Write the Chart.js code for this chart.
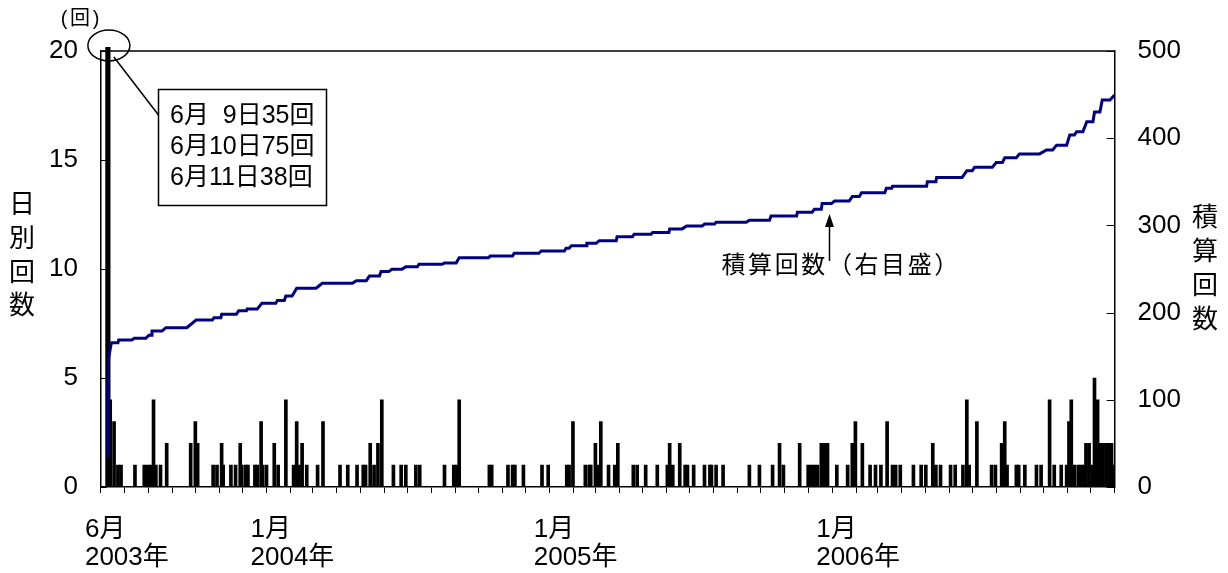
<!DOCTYPE html>
<html lang="ja">
<head>
<meta charset="utf-8">
<title>日別回数と積算回数</title>
<script src="https://cdn.jsdelivr.net/npm/chart.js@4.4.1/dist/chart.umd.min.js"></script>
<style>
  html, body { margin: 0; padding: 0; background: #fff; }
  #wrap { position: relative; width: 1228px; height: 573px; }
</style>
</head>
<body>
<div id="wrap"><canvas id="quakeChart"></canvas></div>
<script>
// Days are counted from 2003-06-01 (day 0)
const eventDays = [
    8, 9, 10, 12, 17, 22, 26, 44, 56, 60, 64, 68, 71, 77, 85,
    116, 122, 125, 145, 150, 156, 158, 168, 174, 180, 182, 187, 190, 199, 202,
    207, 209, 214, 224, 229, 239, 249, 253, 256, 260, 266, 280, 287, 309, 319,
    331, 339, 342, 348, 353, 358, 363, 378, 388, 394, 407, 412,
    444, 456, 460, 463, 502, 505, 526, 532, 535, 546, 570, 578, 602, 605, 610,
    626, 631, 633, 639, 642, 646, 656, 664, 668, 688, 693, 704, 719, 732, 735,
    739, 748, 755, 758, 766, 780, 787, 789, 795, 804, 838, 851, 868, 877,
    882, 903, 914, 918, 922, 926, 931, 935, 939, 951, 965, 971, 975, 984, 994,
    1001, 1008, 1016, 1023, 1027, 1033, 1050, 1060, 1066, 1075, 1079, 1085, 1098, 1104, 1114,
    1119, 1122, 1132, 1151, 1156, 1164, 1168, 1171, 1183, 1186, 1194, 1209, 1215, 1226, 1232,
    1241, 1248, 1251, 1254, 1258, 1263, 1267, 1270, 1273, 1277, 1281, 1284, 1288, 1292, 1295,
    1299, 1303, 1306, 1309
];
const eventCounts = [
    35, 75, 38, 4, 3, 1, 1, 1, 1, 1, 1, 4, 1, 1, 2,
    2, 3, 2, 1, 1, 2, 1, 1, 1, 2, 1, 1, 1, 1, 1,
    3, 1, 1, 2, 1, 4, 1, 3, 1, 2, 1, 1, 3, 1, 1,
    1, 1, 1, 2, 1, 2, 4, 1, 1, 1, 1, 1,
    1, 1, 1, 4, 1, 1, 1, 1, 1, 1, 1, 1, 1, 1, 3,
    1, 1, 1, 2, 1, 3, 1, 1, 2, 1, 1, 1, 1, 1, 2,
    1, 2, 1, 1, 1, 1, 1, 1, 1, 1, 1, 1, 1, 2,
    1, 2, 1, 1, 1, 1, 2, 2, 2, 1, 1, 2, 3, 2, 1,
    1, 1, 3, 1, 1, 1, 1, 1, 1, 2, 1, 1, 1, 1, 1,
    4, 1, 3, 1, 1, 2, 3, 1, 1, 1, 1, 1, 1, 4, 1,
    1, 1, 3, 4, 1, 1, 1, 1, 2, 2, 1, 5, 4, 2, 2,
    2, 2, 2, 1
];

// Cumulative count (right scale)
const cumDays = [
    8, 9, 10, 13, 14, 22, 23, 40, 43, 58, 62, 65, 66, 79, 84, 111,
    123, 144, 146, 155, 156, 175, 178, 188, 189, 202, 208, 226, 228, 237, 239, 247,
    253, 278, 286, 325, 330, 343, 347, 360, 362, 372, 376, 389, 394, 409, 411, 441,
    444, 459, 463, 501, 503, 532, 534, 566, 569, 599, 601, 605, 608, 627, 628, 640,
    644, 666, 667, 687, 689, 711, 713, 734, 735, 751, 757, 777, 780, 793, 795, 834,
    838, 864, 866, 899, 900, 919, 922, 931, 932, 944, 948, 967, 971, 980, 983, 1013,
    1015, 1022, 1023, 1067, 1068, 1079, 1080, 1113, 1119, 1126, 1129, 1152, 1157, 1165, 1168, 1183,
    1187, 1213, 1222, 1230, 1235, 1248, 1252, 1258, 1261, 1269, 1274, 1282, 1284, 1291, 1294, 1304,
    1310
];
const cumTotals = [
    35, 110, 148, 163, 165.5, 165.5, 168.6, 168.6, 170.5, 170.5, 174, 174, 179, 179, 182.7, 182.7,
    191.5, 191.5, 194, 194, 198, 198, 202, 202, 204, 204, 210.6, 210.6, 214, 214, 219, 219,
    228, 228, 233.6, 233.6, 236.6, 236.6, 242, 242, 247, 247, 249.6, 249.6, 252.6, 252.6, 255.4, 255.4,
    257, 257, 263, 263, 265, 265, 268, 268, 270.6, 270.6, 273.7, 273.7, 276.7, 276.7, 279.5, 279.5,
    282.5, 282.5, 287, 287, 289.8, 289.8, 292, 292, 296, 296, 299.3, 299.3, 301.6, 301.6, 303.5, 303.5,
    306, 306, 310.8, 310.8, 315, 315, 318.5, 318.5, 325, 325, 328, 328, 333, 333, 337.5, 337.5,
    342.5, 342.5, 345, 345, 350, 350, 355, 355, 362.7, 362.7, 366.6, 366.6, 372, 372, 377.6, 377.6,
    382, 382, 386.5, 386.5, 392, 392, 403.7, 403.7, 407.5, 407.5, 419, 419, 430, 430, 443.8, 443.8,
    449.5
];

const xLabelMonths = ['2003-06', '2004-01', '2005-01', '2006-01'];
const xLabelText = [['6月', '2003年'], ['1月', '2004年'], ['1月', '2005年'], ['1月', '2006年']];

const leftTitle = ['日', '別', '回', '数'];
const rightTitle = ['積', '算', '回', '数'];
const boxLines = ['6月  9日35回', '6月10日75回', '6月11日38回'];
const lineNote = '積算回数（右目盛）';
const lineNoteDay = 941;

const FONT = '"Liberation Sans", "Noto Sans CJK JP", sans-serif';
const startDate = Date.UTC(2003, 5, 1);

function dayOf(year, month) {
    return Math.round((Date.UTC(year, month - 1, 1) - startDate) / 86400000);
}

// month-start ticks, June 2003 to January 2007
const monthTicks = [];
for (let i = 0; i <= 43; i++) {
    monthTicks.push(dayOf(2003, 6 + i));
}
const labelDays = xLabelMonths.map(s => dayOf(+s.slice(0, 4), +s.slice(5)));

const decorations = {
    id: 'decorations',
    afterDraw(chart) {
        const { ctx, chartArea: area, scales } = chart;
        ctx.save();
        ctx.strokeStyle = '#000';
        ctx.fillStyle = '#000';

        // top of the frame
        ctx.lineWidth = 1.5;
        ctx.beginPath();
        ctx.moveTo(area.left, area.top);
        ctx.lineTo(area.right, area.top);
        ctx.stroke();

        // tick marks pointing into the plot
        ctx.lineWidth = 1;
        scales.y.ticks.forEach(t => {
            const py = Math.round(scales.y.getPixelForValue(t.value)) + 0.5;
            ctx.beginPath();
            ctx.moveTo(area.left, py);
            ctx.lineTo(area.left + 6, py);
            ctx.stroke();
        });
        scales.y2.ticks.forEach(t => {
            const py = Math.round(scales.y2.getPixelForValue(t.value)) + 0.5;
            ctx.beginPath();
            ctx.moveTo(area.right - 8, py);
            ctx.lineTo(area.right, py);
            ctx.stroke();
        });

        // stacked axis titles
        ctx.font = '26px ' + FONT;
        ctx.textAlign = 'center';
        ctx.textBaseline = 'middle';
        leftTitle.forEach((ch, i) => ctx.fillText(ch, 22, 206 + i * 33.7));
        rightTitle.forEach((ch, i) => ctx.fillText(ch, 1205, 219 + i * 34));
        ctx.font = '20px ' + FONT;
        ctx.fillText('(', 64, 19);
        ctx.fillText('回', 80, 19);
        ctx.fillText(')', 96, 19);

        // circle round the clipped spike, leader and call-out box
        const sx = scales.x.getPixelForValue(eventDays[1]) + 1;
        ctx.lineWidth = 1.5;
        ctx.beginPath();
        ctx.ellipse(sx, area.top - 5.5, 21, 15.5, 0, 0, Math.PI * 2);
        ctx.stroke();
        ctx.beginPath();
        ctx.moveTo(sx + 5, area.top + 6);
        ctx.lineTo(158.5, 115);
        ctx.stroke();
        ctx.fillStyle = '#fff';
        ctx.fillRect(158.5, 89.5, 168, 116);
        ctx.strokeRect(158.5, 89.5, 168, 116);
        ctx.fillStyle = '#000';
        ctx.font = '25px ' + FONT;
        ctx.textAlign = 'left';
        boxLines.forEach((s, i) => ctx.fillText(s, 170, 116 + i * 31));

        // arrow to the cumulative line
        const ax = Math.round(scales.x.getPixelForValue(lineNoteDay)) + 0.5;
        ctx.lineWidth = 1.5;
        ctx.beginPath();
        ctx.moveTo(ax, 261);
        ctx.lineTo(ax, 224);
        ctx.stroke();
        ctx.beginPath();
        ctx.moveTo(ax, 214);
        ctx.lineTo(ax - 4.5, 227);
        ctx.lineTo(ax + 4.5, 227);
        ctx.closePath();
        ctx.fill();
        ctx.font = '24px ' + FONT;
        ctx.textAlign = 'center';
        Array.from(lineNote).forEach((ch, i) => ctx.fillText(ch, 733.5 + i * 26.6, 266));

        ctx.restore();
    }
};

Chart.defaults.font.family = FONT;
Chart.defaults.color = '#000';

new Chart(document.getElementById('quakeChart'), {
    type: 'bar',
    data: {
        datasets: [
            {
                type: 'line',
                label: '積算回数',
                data: cumDays.map((d, i) => ({ x: d, y: cumTotals[i] })),
                yAxisID: 'y2',
                borderColor: '#000080',
                borderWidth: 3,
                pointRadius: 0,
                tension: 0,
                fill: false,
                order: 0
            },
            {
                label: '日別回数',
                data: eventDays.map((d, i) => ({ x: d, y: eventCounts[i] })),
                yAxisID: 'y',
                backgroundColor: '#000',
                borderWidth: 0,
                barThickness: 3,
                clip: { left: 0, top: 4, right: 0, bottom: 0 },
                order: 1
            }
        ]
    },
    plugins: [decorations],
    options: {
        responsive: true,
        maintainAspectRatio: false,
        animation: false,
        layout: { padding: { left: 26, right: 24, top: 51, bottom: -22 } },
        plugins: {
            legend: { display: false },
            tooltip: { enabled: false }
        },
        scales: {
            x: {
                type: 'linear',
                min: 0,
                max: monthTicks[monthTicks.length - 1],
                offset: false,
                afterBuildTicks: scale => {
                    scale.ticks = monthTicks.map(v => ({ value: v }));
                },
                ticks: {
                    autoSkip: false,
                    maxRotation: 0,
                    align: 'start',
                    labelOffset: -16,
                    padding: 23,
                    font: { size: 26, lineHeight: 28 / 26 },
                    callback: value => {
                        const i = labelDays.indexOf(value);
                        return i >= 0 ? xLabelText[i] : '';
                    }
                },
                grid: {
                    offset: false,
                    drawOnChartArea: false,
                    drawTicks: true,
                    tickLength: 6,
                    tickColor: '#000',
                    tickWidth: 1
                },
                border: { display: true, color: '#000', width: 1.5 }
            },
            y: {
                position: 'left',
                min: 0,
                max: 20,
                ticks: { stepSize: 5, padding: 23, font: { size: 26 } },
                grid: { drawOnChartArea: false, drawTicks: false },
                border: { display: true, color: '#000', width: 1.5 }
            },
            y2: {
                position: 'right',
                min: 0,
                max: 500,
                ticks: { stepSize: 100, padding: 23, font: { size: 26 } },
                grid: { drawOnChartArea: false, drawTicks: false },
                border: { display: true, color: '#000', width: 1.5 }
            }
        }
    }
});
</script>
</body>
</html>
